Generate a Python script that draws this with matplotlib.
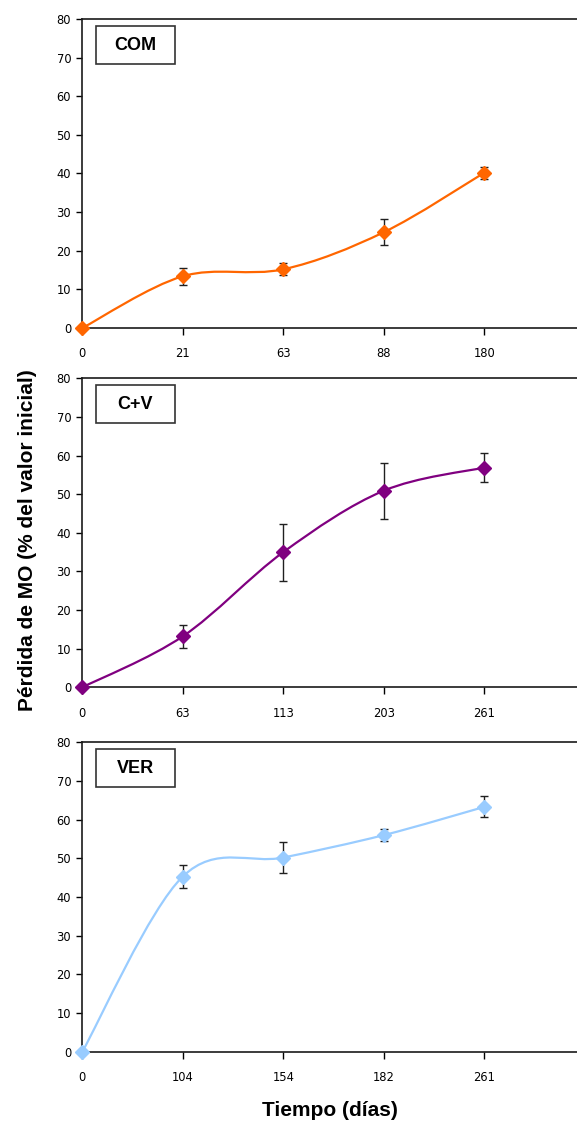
import matplotlib
matplotlib.use("Agg")
import matplotlib.pyplot as plt
from matplotlib.path import Path
from matplotlib.patches import PathPatch, Rectangle
import numpy as np

plt.rcParams['font.family'] = ['Liberation Sans', 'DejaVu Sans']

# ---------------- data ----------------
com_days = ["0", "21", "63", "88", "180"]
com_loss = [0.0, 13.4, 15.2, 24.8, 40.2]
com_err = [0.0, 2.2, 1.6, 3.3, 1.5]

cv_days = ["0", "63", "113", "203", "261"]
cv_loss = [0.0, 13.2, 35.0, 50.9, 56.9]
cv_err = [0.0, 3.0, 7.4, 7.3, 3.7]

ver_days = ["0", "104", "154", "182", "261"]
ver_loss = [0.0, 45.3, 50.2, 56.0, 63.3]
ver_err = [0.0, 2.9, 4.0, 1.5, 2.7]

panels = [
    ("COM", com_days, com_loss, com_err, "#FF6600"),
    ("C+V", cv_days, cv_loss, cv_err, "#800080"),
    ("VER", ver_days, ver_loss, ver_err, "#99CCFF"),
]

W, H = 577, 1124
fig = plt.figure(figsize=(W / 100, H / 100), dpi=100)

rows = [(19.0, 328.0), (378.3, 687.3), (742.3, 1051.7)]
left_px = 82.3
slot_px = 100.5


def smooth_path(xs, ys):
    pts = np.column_stack([xs, ys]).astype(float)
    n = len(pts)
    verts = [pts[0]]
    codes = [Path.MOVETO]
    for i in range(n - 1):
        p0 = pts[i - 1] if i > 0 else pts[i]
        p1 = pts[i]
        p2 = pts[i + 1]
        p3 = pts[i + 2] if i + 2 < n else pts[i + 1]
        c1 = p1 + (p2 - p0) / 6.0
        c2 = p2 - (p3 - p1) / 6.0
        verts += [c1, c2, p2]
        codes += [Path.CURVE4] * 3
    return Path(verts, codes)


tick_font = dict(family=['DejaVu Sans'], size=8.3)

for (name, days, loss, err, color), (top, bot) in zip(panels, rows):
    ax = fig.add_axes([left_px / W, 1 - bot / H, 5 * slot_px / W, (bot - top) / H])
    x = np.arange(len(days))
    path = smooth_path(x, loss)
    ax.add_patch(PathPatch(path, facecolor='none', edgecolor=color, lw=1.6,
                           transform=ax.transData, zorder=2))
    ax.errorbar(x[1:], loss[1:], yerr=err[1:], fmt='none', ecolor='#202020',
                elinewidth=1.0, capsize=3, capthick=1.0, zorder=3)
    ax.plot(x, loss, linestyle='none', marker='D', ms=7, color=color,
            markeredgecolor=color, zorder=4, clip_on=False)
    ax.set_xlim(0, 5)
    ax.set_ylim(0, 80)
    ax.set_yticks(np.arange(0, 81, 10))
    ax.set_xticks(x)
    ax.set_xticklabels(days)
    ax.tick_params(axis='y', direction='out', length=4, width=1, pad=4,
                   colors='black')
    ax.tick_params(axis='x', direction='out', length=5, width=1, pad=9,
                   colors='black')
    for lab in ax.get_xticklabels() + ax.get_yticklabels():
        lab.set_fontfamily(tick_font['family'])
        lab.set_fontsize(tick_font['size'])
    for s in ax.spines.values():
        s.set_linewidth(1.2)
        s.set_color('#1a1a1a')
    bx, by, bw, bh = 13.7 / 502.5, 0.854, 79 / 502.5, 38 / 309
    ax.add_patch(Rectangle((bx, by), bw, bh, transform=ax.transAxes,
                           facecolor='white', edgecolor='#333333', lw=1.2,
                           zorder=5))
    ax.text(bx + bw / 2, by + bh / 2, name, transform=ax.transAxes,
            ha='center', va='center', fontsize=13, fontweight='bold',
            color='black', zorder=6)

fig.text(28 / W, 1 - 540 / H, "Pérdida de MO (% del valor inicial)", rotation=90,
         ha='center', va='center', fontsize=15, fontweight='bold')
fig.text(330 / W, 1 - 1111 / H, "Tiempo (días)", ha='center', va='center',
         fontsize=15, fontweight='bold')

fig.savefig("out.png", dpi=100, facecolor='white')
